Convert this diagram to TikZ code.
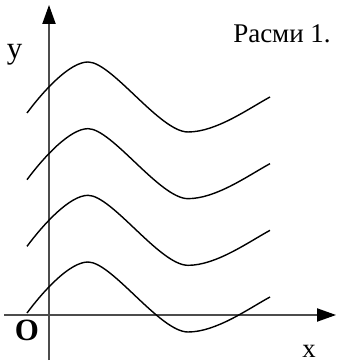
\documentclass[tikz,border=0pt]{standalone}
\usepackage{fontspec}
\setmainfont{Liberation Serif}
\usetikzlibrary{arrows.meta}

\begin{document}
\begin{tikzpicture}[>={Triangle[length=0.475cm, width=0.33cm, color=black]},
    axis/.style={->, line width=1pt, draw=black!70},
    wave/.style={line width=1pt, black}]
    \useasboundingbox (-1.225,-1.2) rectangle (7.2,7.875);

    % Hệ trục tọa độ
    \coordinate (xs) at (-1.125,0);
    \coordinate (xe) at (7.175,0);
    \coordinate (ys) at (0,-1.125);
    \coordinate (ye) at (0,7.75);
    \draw[axis] (xs) -- (xe);
    \draw[axis] (ys) -- (ye);

    % Nhãn
    \node (ylab) at (-0.86,6.5) {\fontsize{22}{22}\selectfont y};
    \node (xlab) at (6.5,-0.9) {\fontsize{19}{19}\selectfont x};
    \node (orig) at (-0.55,-0.375) {\fontsize{22}{22}\selectfont\bfseries O};
    \node (title) at (5.825,7.04) {\fontsize{19.2}{19.2}\selectfont Расми 1.};

    % Bốn đường cong song song
    \foreach \k in {0,...,3}
        \draw[wave, yshift=\k*1.6667cm] (-0.55,0.05)
            .. controls (-0.125,0.62) and (0.525,1.325) .. (0.975,1.325)
            .. controls (1.575,1.325) and (2.775,-0.425) .. (3.475,-0.425)
            .. controls (4.175,-0.425) and (4.975,0.15) .. (5.525,0.45);
\end{tikzpicture}
\end{document}
